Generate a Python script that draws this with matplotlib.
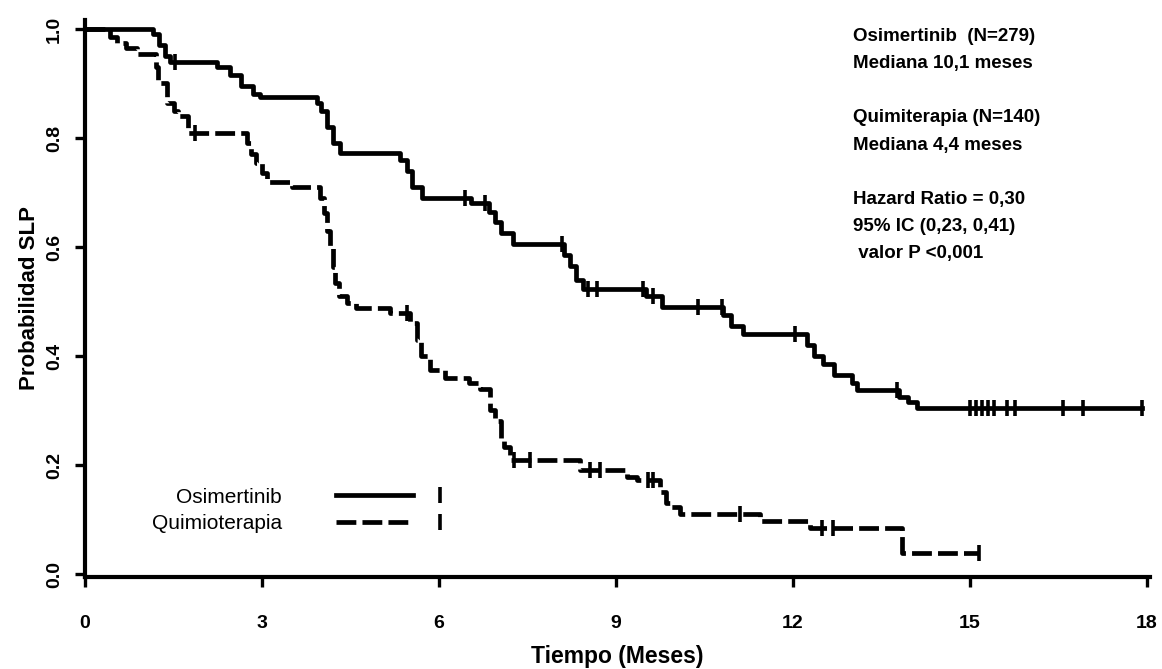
import numpy as np
import matplotlib
matplotlib.use("Agg")
import matplotlib.pyplot as plt
from matplotlib.lines import Line2D
from matplotlib.legend_handler import HandlerBase

plt.rcParams['font.family'] = ['Liberation Sans', 'DejaVu Sans']

# Kaplan-Meier steps (months, survival)
osi_t = [0, 1.15, 1.25, 1.35, 1.44, 2.24, 2.45, 2.65, 2.85, 2.97, 3.93, 4.0, 4.1, 4.2, 4.32,
         5.34, 5.45, 5.55, 5.71, 6.55, 6.85, 6.95, 7.05, 7.25, 8.12, 8.22, 8.32, 8.44, 9.5,
         9.78, 10.82, 10.95, 11.15, 12.24, 12.35, 12.5, 12.7, 13.0, 13.08, 13.8, 13.95, 14.1, 17.92]
osi_s = [1.0, 0.99, 0.97, 0.95, 0.94, 0.93, 0.915, 0.895, 0.88, 0.875, 0.865, 0.85, 0.82, 0.79, 0.772,
         0.76, 0.74, 0.71, 0.69, 0.68, 0.665, 0.645, 0.625, 0.605, 0.585, 0.565, 0.54, 0.523, 0.51,
         0.49, 0.475, 0.455, 0.44, 0.42, 0.40, 0.385, 0.365, 0.35, 0.338, 0.325, 0.315, 0.305, 0.305]
osi_cens = [1.53, 6.44, 6.78, 8.08, 8.53, 8.68, 9.46, 9.63, 10.39, 10.8, 12.03, 13.76,
            15.0, 15.1, 15.2, 15.3, 15.4, 15.63, 15.76, 16.58, 16.92, 17.92]

qt_t = [0, 0.42, 0.54, 0.7, 0.88, 1.2, 1.24, 1.39, 1.5, 1.58, 1.75, 2.74, 2.82, 2.9, 3.0, 3.08,
        3.5, 3.98, 4.05, 4.1, 4.16, 4.2, 4.24, 4.3, 4.44, 4.6, 5.17, 5.5, 5.62, 5.7, 5.85, 6.1,
        6.5, 6.7, 6.86, 6.95, 7.05, 7.1, 7.2, 8.39, 9.18, 9.35, 9.75, 9.85, 9.92, 10.08, 11.44,
        12.29, 13.85, 15.15]
qt_s = [1.0, 0.985, 0.974, 0.965, 0.955, 0.93, 0.90, 0.864, 0.85, 0.84, 0.81, 0.79, 0.77, 0.754,
        0.735, 0.72, 0.71, 0.69, 0.662, 0.63, 0.60, 0.563, 0.534, 0.51, 0.497, 0.488, 0.479, 0.46,
        0.43, 0.40, 0.375, 0.36, 0.35, 0.34, 0.30, 0.28, 0.25, 0.233, 0.21, 0.19, 0.178, 0.172,
        0.15, 0.13, 0.123, 0.11, 0.097, 0.085, 0.038, 0.038]
qt_cens = [1.86, 5.45, 7.27, 7.54, 8.56, 8.73, 9.55, 9.63, 11.1, 12.49, 12.68, 15.15]

x_ticks = [0, 3, 6, 9, 12, 15, 18]
y_ticks = [0.0, 0.2, 0.4, 0.6, 0.8, 1.0]
labels = ["Osimertinib", "Quimioterapia"]
info = ("Osimertinib  (N=279)\nMediana 10,1 meses\n\n"
        "Quimiterapia (N=140)\nMediana 4,4 meses\n\n"
        "Hazard Ratio = 0,30\n95% IC (0,23, 0,41)\n valor P <0,001")

LW = 3.4
DASH = (4.2, 1.3)


def step_val(t, s, x):
    idx = np.searchsorted(np.array(t), np.array(x), side='right') - 1
    return np.array(s)[idx]


fig = plt.figure(figsize=(11.62, 6.69), dpi=100)
ax = fig.add_axes([85 / 1162, 92 / 669, 1065 / 1162, 557 / 669])

ax.plot(osi_t, osi_s, drawstyle='steps-post', color='black', lw=LW)
ax.plot(osi_cens, step_val(osi_t, osi_s, osi_cens), ls='none', marker='|',
        ms=12, mew=2.6, color='black')

ln_q, = ax.plot(qt_t, qt_s, drawstyle='steps-post', color='black', lw=LW, ls='--')
ln_q.set_dashes(DASH)
ax.plot(qt_cens, step_val(qt_t, qt_s, qt_cens), ls='none', marker='|',
        ms=12, mew=2.6, color='black')

ax.set_xlim(0, 18.05)
ax.set_ylim(-0.0055, 1.0165)
ax.set_xticks(x_ticks)
ax.set_yticks(y_ticks)
ax.set_xticklabels([str(v) for v in x_ticks], fontsize=14, fontweight='bold')
ax.set_yticklabels(["%.1f" % v for v in y_ticks], fontsize=14, fontweight='bold',
                   rotation=90, va='center')
ax.tick_params(axis='both', length=7, width=2.4, direction='out')
ax.tick_params(axis='y', pad=9)
ax.tick_params(axis='x', pad=20)
for side in ['top', 'right']:
    ax.spines[side].set_visible(False)
for side in ['left', 'bottom']:
    ax.spines[side].set_linewidth(3)

ax.set_xlabel("Tiempo (Meses)", fontsize=16.5, fontweight='bold', labelpad=10)
ax.set_ylabel("Probabilidad SLP", fontsize=16, fontweight='bold', labelpad=4)


class LineTick(HandlerBase):
    def create_artists(self, legend, orig, xdescent, ydescent, width, height, fontsize, trans):
        y = height / 2 - ydescent
        ln = Line2D([-xdescent, -xdescent + width * 0.74], [y, y], color='black',
                    lw=LW, ls=orig.get_linestyle())
        if orig.get_linestyle() != '-':
            ln.set_dashes(DASH)
        tk = Line2D([-xdescent + width], [y], marker='|', ms=11, mew=2.6, color='black')
        ln.set_transform(trans)
        tk.set_transform(trans)
        return [ln, tk]


h1 = Line2D([], [], color='black', ls='-')
h2 = Line2D([], [], color='black', ls='--')
ax.legend([h1, h2], labels, handler_map={Line2D: LineTick()}, markerfirst=False,
          frameon=False, fontsize=15, handlelength=5.0, handletextpad=2.6,
          labelspacing=0.35, loc='center', bbox_to_anchor=(0.198, 0.12))

fig.text(853 / 1162, 1 - 28 / 669, info, fontsize=13.5, fontweight='bold',
         va='top', ha='left', linespacing=1.78)

fig.savefig("out.png", dpi=100)
